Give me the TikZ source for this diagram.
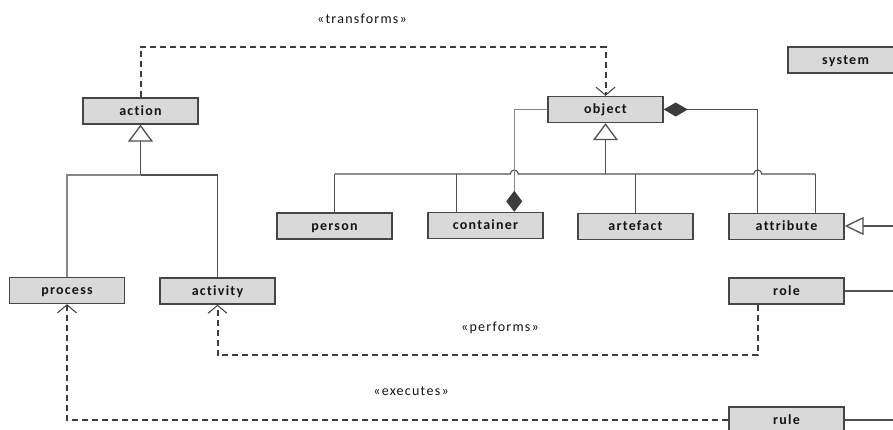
\documentclass[tikz,border=0pt]{standalone}
\usepackage{fontspec}
\setmainfont{Carlito}
\newfontfamily\boxfont[LetterSpace=9,Ligatures={NoCommon}]{Carlito}
\newfontfamily\labfont[LetterSpace=9,Ligatures={NoCommon}]{Carlito}
\usetikzlibrary{arrows.meta,calc}
\definecolor{boxfill}{RGB}{217,217,217}
\definecolor{boxline}{RGB}{70,70,70}
\definecolor{linecol}{RGB}{80,80,80}
\definecolor{lightline}{RGB}{135,135,135}
\definecolor{dashcol}{RGB}{60,60,60}
\definecolor{txtcol}{RGB}{20,20,20}
\begin{document}
\begin{tikzpicture}[x=1bp,y=-1bp,
  cls/.style={draw=boxline, fill=boxfill, line width=1.4bp, minimum width=115bp,
    minimum height=26bp, inner sep=0pt, text=txtcol, text height=10bp, text depth=2bp,
    font=\boxfont\bfseries\fontsize{14bp}{16bp}\selectfont},
  lab/.style={inner sep=0pt, text=txtcol, font=\labfont\fontsize{14bp}{16bp}\selectfont},
  assoc/.style={draw=linecol, line width=1.1bp},
  dep/.style={draw=dashcol, line width=2bp, dash pattern=on 6bp off 4bp,
    -{Straight Barb[length=8bp,width=19bp,line width=1bp]}},
  gen/.style={-{Triangle[open,length=17bp,width=25bp,fill=white,line width=1.3bp]}},
  genside/.style={-{Triangle[open,length=19bp,width=18bp,fill=white,line width=1.3bp]}},
  compend/.style={-{Diamond[length=21bp,width=16bp,color=dashcol,fill=dashcol]}},
  compstart/.style={{Diamond[length=24bp,width=14bp,color=dashcol,fill=dashcol]}-},
]
\useasboundingbox (0,0) rectangle (893,429);
\clip (0,0) rectangle (893,429);

% classes
\node[cls] (action) at (140.5,111) {action};
\node[cls] (object) at (605.5,109.5) {object};
\node[cls] (system) at (845.5,60) {system};
\node[cls] (person) at (334.5,226) {person};
\node[cls] (container) at (485.5,225.5) {container};
\node[cls] (artefact) at (635.5,226.5) {artefact};
\node[cls] (attribute) at (786.5,226.5) {attribute};
\node[cls] (process) at (67,290.5) {process};
\node[cls] (activity) at (217.5,291) {activity};
\node[cls] (role) at (786.5,291) {role};
\node[cls] (rule) at (786.5,420) {rule};

% labels
\node[lab] (ltr) at (362,19) {«transforms»};
\node[lab] (lpe) at (500,328) {«performs»};
\node[lab] (lex) at (411,391) {«executes»};

% helper coordinates
\coordinate (tTop) at (400,47);
\coordinate (pBot) at (400,355);
\coordinate (aj) at (140.5,175);
\coordinate (oj) at (600,174);
\coordinate (edgeA) at (900,226);

% action generalisation
\draw[draw=lightline, line width=1.1bp] (process.north) -- (process.north |- aj) -- (action.south |- aj);
\draw[assoc] (action.south |- aj) -- (activity.north |- aj) -- (activity.north);
\draw[assoc,gen] (action.south |- aj) -- (action.south);

% object generalisation with line jumps
\draw[assoc] (person.north |- oj)
  -- ($(container.north |- oj)+(24.75,0)$) arc[start angle=180,end angle=0,radius=4bp]
  -- ($(attribute.north |- oj)+(-32.75,0)$) arc[start angle=180,end angle=0,radius=4bp]
  -- ($(attribute.north |- oj)+(28.75,0)$);
\draw[assoc] (person.north |- oj) -- (person.north);
\draw[assoc] ($(container.north |- oj)+(-28.75,0)$) -- ($(container.north)+(-28.75,0)$);
\draw[assoc] (artefact.north |- oj) -- (artefact.north);
\draw[assoc] ($(attribute.north |- oj)+(28.75,0)$) -- ($(attribute.north)+(28.75,0)$);
\draw[assoc,gen] (object.south |- oj) -- (object.south);

% compositions
\draw[draw=lightline, line width=1.1bp, compend] (object.west) -| ($(container.north)+(28.75,0)$);
\draw[assoc,compstart] (object.east) -| ($(attribute.north)+(-28.75,0)$);

% right-side links
\draw[assoc,genside] (edgeA) -- (attribute.east |- edgeA);
\draw[assoc] (role.east) -- (role.east -| edgeA);
\draw[assoc] (rule.east) -- (rule.east -| edgeA);

% dependencies
\draw[dep] (action.north) -- (action.north |- tTop) -- (object.north |- tTop) -- (object.north);
\draw[dep] ($(role.south)+(-28.75,0)$) -- ($(role.south |- pBot)+(-28.75,0)$)
  -- (activity.south |- pBot) -- (activity.south);
\draw[dep] (rule.west) -- (process.south |- rule.west) -- (process.south);
\end{tikzpicture}
\end{document}
